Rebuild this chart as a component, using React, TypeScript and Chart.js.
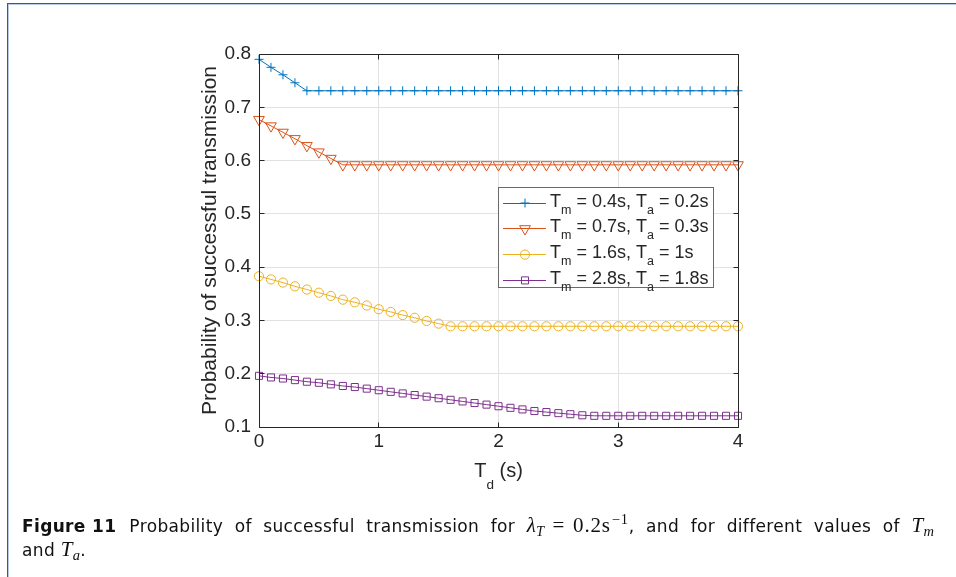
import React, { useEffect, useLayoutEffect, useRef } from 'react';
import { Chart, registerables } from 'chart.js';

Chart.register(...registerables);

// ---------- data ----------
const tdValues = [
  0, 0.1, 0.2, 0.3, 0.4, 0.5, 0.6, 0.7, 0.8, 0.9,
  1.0, 1.1, 1.2, 1.3, 1.4, 1.5, 1.6, 1.7, 1.8, 1.9,
  2.0, 2.1, 2.2, 2.3, 2.4, 2.5, 2.6, 2.7, 2.8, 2.9,
  3.0, 3.1, 3.2, 3.3, 3.4, 3.5, 3.6, 3.7, 3.8, 3.9, 4.0,
];

const seriesA = [
  0.790, 0.775, 0.761, 0.746, 0.731, 0.731, 0.731, 0.731, 0.731, 0.731,
  0.731, 0.731, 0.731, 0.731, 0.731, 0.731, 0.731, 0.731, 0.731, 0.731,
  0.731, 0.731, 0.731, 0.731, 0.731, 0.731, 0.731, 0.731, 0.731, 0.731,
  0.731, 0.731, 0.731, 0.731, 0.731, 0.731, 0.731, 0.731, 0.731, 0.731, 0.731,
];

const seriesB = [
  0.677, 0.665, 0.653, 0.641, 0.628, 0.616, 0.604, 0.592, 0.592, 0.592,
  0.592, 0.592, 0.592, 0.592, 0.592, 0.592, 0.592, 0.592, 0.592, 0.592,
  0.592, 0.592, 0.592, 0.592, 0.592, 0.592, 0.592, 0.592, 0.592, 0.592,
  0.592, 0.592, 0.592, 0.592, 0.592, 0.592, 0.592, 0.592, 0.592, 0.592, 0.592,
];

const seriesC = [
  0.383, 0.377, 0.371, 0.364, 0.358, 0.352, 0.346, 0.339, 0.334, 0.328,
  0.321, 0.316, 0.310, 0.305, 0.299, 0.294, 0.289, 0.289, 0.289, 0.289,
  0.289, 0.289, 0.289, 0.289, 0.289, 0.289, 0.289, 0.289, 0.289, 0.289,
  0.289, 0.289, 0.289, 0.289, 0.289, 0.289, 0.289, 0.289, 0.289, 0.289, 0.289,
];

const seriesD = [
  0.196, 0.193, 0.191, 0.188, 0.185, 0.183, 0.180, 0.177, 0.175, 0.172,
  0.169, 0.166, 0.163, 0.160, 0.157, 0.154, 0.151, 0.148, 0.145, 0.142,
  0.139, 0.136, 0.133, 0.130, 0.128, 0.126, 0.124, 0.122, 0.121, 0.121,
  0.121, 0.121, 0.121, 0.121, 0.121, 0.121, 0.121, 0.121, 0.121, 0.121, 0.121,
];

const seriesLabels = [
  'T_m = 0.4s, T_a = 0.2s',
  'T_m = 0.7s, T_a = 0.3s',
  'T_m = 1.6s, T_a = 1s',
  'T_m = 2.8s, T_a = 1.8s',
];

const xTickValues = [0, 1, 2, 3, 4];
const yTickValues = [0.1, 0.2, 0.3, 0.4, 0.5, 0.6, 0.7, 0.8];
const xAxisTitle = 'T_d (s)';
const yAxisTitle = 'Probability of successful transmission';

// ---------- styles ----------
const COLORS = ['#0072BD', '#D95319', '#EDB120', '#7E2F8E'];
const STYLES: any[] = [
  { pointStyle: 'cross', radius: 4.5, rotation: 0 },
  { pointStyle: 'triangle', radius: 6.2, rotation: 180 },
  { pointStyle: 'circle', radius: 4.6, rotation: 0 },
  { pointStyle: 'rect', radius: 5, rotation: 0 },
];
const FONT = "'Liberation Sans', Arial, sans-serif";
const INK = '#262626';
const CAPTION_RIGHT = 940;

function richText(
  ctx: CanvasRenderingContext2D,
  text: string,
  x: number,
  y: number,
  size: number,
  subSize: number,
  subShift: number,
  draw: boolean
): number {
  let cx = x;
  let i = 0;
  while (i < text.length) {
    if (text[i] === '_' && i + 1 < text.length) {
      ctx.font = `${subSize}px ${FONT}`;
      const ch = text[i + 1];
      if (draw) ctx.fillText(ch, cx, y + subShift);
      cx += ctx.measureText(ch).width;
      i += 2;
    } else {
      let j = i;
      while (j < text.length && text[j] !== '_') j++;
      const seg = text.slice(i, j);
      ctx.font = `${size}px ${FONT}`;
      if (draw) ctx.fillText(seg, cx, y);
      cx += ctx.measureText(seg).width;
      i = j;
    }
  }
  return cx - x;
}

function drawMarker(ctx: CanvasRenderingContext2D, style: string, x: number, y: number, r: number, rotation: number) {
  ctx.beginPath();
  if (style === 'cross') {
    ctx.moveTo(x - r, y);
    ctx.lineTo(x + r, y);
    ctx.moveTo(x, y - r);
    ctx.lineTo(x, y + r);
  } else if (style === 'triangle') {
    const rad = (rotation * Math.PI) / 180;
    for (let k = 0; k < 3; k++) {
      const a = rad + (k * 2 * Math.PI) / 3;
      const px = x + Math.sin(a) * r;
      const py = y - Math.cos(a) * r;
      if (k === 0) ctx.moveTo(px, py);
      else ctx.lineTo(px, py);
    }
    ctx.closePath();
  } else if (style === 'circle') {
    ctx.arc(x, y, r, 0, Math.PI * 2);
  } else if (style === 'rect') {
    const s = Math.SQRT1_2 * r;
    ctx.rect(x - s, y - s, 2 * s, 2 * s);
  }
  ctx.stroke();
}

const frameAndLegend = {
  id: 'frameAndLegend',
  afterDatasetsDraw(chart: any) {
    const ctx: CanvasRenderingContext2D = chart.ctx;
    const { left, right, top, bottom } = chart.chartArea;
    const xs = chart.scales.x;
    const ys = chart.scales.y;
    const al = (v: number) => Math.floor(v) + 0.5;
    ctx.save();
    // axes box
    ctx.strokeStyle = INK;
    ctx.lineWidth = 1;
    ctx.beginPath();
    ctx.rect(al(left), al(top), al(right) - al(left), al(bottom) - al(top));
    ctx.stroke();
    // inward ticks
    const tl = 5;
    ctx.beginPath();
    xTickValues.forEach((v) => {
      const px = al(xs.getPixelForValue(v));
      ctx.moveTo(px, al(bottom));
      ctx.lineTo(px, al(bottom) - tl);
      ctx.moveTo(px, al(top));
      ctx.lineTo(px, al(top) + tl);
    });
    yTickValues.forEach((v) => {
      const py = al(ys.getPixelForValue(v));
      ctx.moveTo(al(left), py);
      ctx.lineTo(al(left) + tl, py);
      ctx.moveTo(al(right), py);
      ctx.lineTo(al(right) - tl, py);
    });
    ctx.stroke();

    // x axis title with subscript
    ctx.fillStyle = INK;
    ctx.textAlign = 'left';
    ctx.textBaseline = 'alphabetic';
    const tw = richText(ctx, xAxisTitle, 0, 0, 20, 13.5, 12, false);
    const cx = (left + right) / 2;
    richText(ctx, xAxisTitle, cx - tw / 2, bottom + 50, 20, 13.5, 12, true);

    // legend
    const lx = left + 239;
    const ly = top + 133;
    const lw = 215;
    const lh = 100;
    ctx.fillStyle = '#ffffff';
    ctx.fillRect(lx, ly, lw, lh);
    ctx.strokeStyle = '#6a6a6a';
    ctx.lineWidth = 1;
    ctx.strokeRect(al(lx), al(ly), lw, lh);
    seriesLabels.forEach((lab, i) => {
      const rowY = ly + 16 + i * 25.8;
      ctx.strokeStyle = COLORS[i];
      ctx.lineWidth = 1;
      ctx.beginPath();
      ctx.moveTo(lx + 5, al(rowY));
      ctx.lineTo(lx + 48, al(rowY));
      ctx.stroke();
      drawMarker(ctx, STYLES[i].pointStyle, lx + 27, rowY, STYLES[i].radius, STYLES[i].rotation);
      ctx.fillStyle = INK;
      richText(ctx, lab, lx + 52, rowY + 3.5, 18, 12.5, 7, true);
    });
    ctx.restore();
  },
};

function ChartCanvas() {
  const ref = useRef<HTMLCanvasElement | null>(null);
  useEffect(() => {
    if (!ref.current) return;
    const allSeries = [seriesA, seriesB, seriesC, seriesD];
    const chart = new Chart(ref.current, {
      type: 'line',
      data: {
        datasets: allSeries.map((s, i) => ({
          label: seriesLabels[i],
          data: tdValues.map((x, k) => ({ x, y: s[k] })),
          borderColor: COLORS[i],
          borderWidth: 1,
          backgroundColor: 'transparent',
          pointStyle: STYLES[i].pointStyle,
          pointRadius: STYLES[i].radius,
          pointRotation: STYLES[i].rotation,
          pointBorderColor: COLORS[i],
          pointBackgroundColor: 'transparent',
          pointBorderWidth: 1,
          fill: false,
          tension: 0,
          clip: false as any,
        })),
      },
      options: {
        animation: false,
        responsive: false,
        devicePixelRatio: 1,
        events: [],
        layout: { padding: { left: 198, top: 54, right: 218, bottom: 110 } },
        plugins: {
          legend: { display: false },
          tooltip: { enabled: false },
        },
        scales: {
          x: {
            type: 'linear',
            min: 0,
            max: 4,
            afterBuildTicks: (s: any) => {
              s.ticks = xTickValues.map((v) => ({ value: v }));
            },
            afterFit: (s: any) => {
              s.height = 40;
            },
            ticks: {
              padding: 3,
              color: INK,
              maxRotation: 0,
              font: { family: FONT, size: 19 },
              callback: (v: any) => String(v),
            },
            grid: { color: '#e2e2e2', drawTicks: false, lineWidth: 1 },
            border: { display: false },
          },
          y: {
            type: 'linear',
            min: 0.1,
            max: 0.8,
            afterBuildTicks: (s: any) => {
              s.ticks = yTickValues.map((v) => ({ value: v }));
            },
            afterFit: (s: any) => {
              s.width = 61;
            },
            ticks: {
              padding: 8,
              color: INK,
              font: { family: FONT, size: 19 },
              callback: (v: any) => Number(v).toFixed(1),
            },
            title: {
              display: true,
              text: yAxisTitle,
              color: INK,
              padding: 0,
              font: { family: FONT, size: 21 },
            },
            grid: { color: '#e2e2e2', drawTicks: false, lineWidth: 1 },
            border: { display: false },
          },
        },
      },
      plugins: [frameAndLegend],
    });
    return () => chart.destroy();
  }, []);
  return (
    <canvas
      ref={ref}
      width={956}
      height={577}
      style={{ position: 'absolute', left: 0, top: 0, width: 956, height: 577 }}
    />
  );
}

const serif: React.CSSProperties = {
  fontFamily: "'Liberation Serif', 'DejaVu Serif', serif",
  fontStyle: 'italic',
  fontSize: 21,
  letterSpacing: 0.3,
};
const serifUp: React.CSSProperties = {
  fontFamily: "'Liberation Serif', 'DejaVu Serif', serif",
  fontSize: 21,
  letterSpacing: 0.8,
};
const sub: React.CSSProperties = {
  fontSize: 14.5,
  position: 'relative',
  top: 4,
  lineHeight: 0,
};
const sup: React.CSSProperties = {
  fontSize: 14.5,
  position: 'relative',
  top: -8,
  lineHeight: 0,
  marginLeft: 1,
};

function Caption() {
  const lineRef = useRef<HTMLSpanElement | null>(null);
  useLayoutEffect(() => {
    const fit = () => {
      const line = lineRef.current;
      if (!line) return;
      line.style.wordSpacing = '0px';
      const right = line.getBoundingClientRect().right;
      const n = (line.textContent || '').split(' ').length - 1;
      if (n > 0) line.style.wordSpacing = `${Math.max(0, (CAPTION_RIGHT - right) / n)}px`;
    };
    fit();
    const f: any = (document as any).fonts;
    if (f && f.ready) f.ready.then(fit);
  }, []);
  return (
    <div
      style={{
        position: 'absolute',
        left: 22,
        top: 514,
        fontFamily: "'DejaVu Sans', sans-serif",
        fontSize: 17,
        letterSpacing: 0.35,
        lineHeight: '23px',
        color: '#111',
        whiteSpace: 'nowrap',
      }}
    >
      <span ref={lineRef}>
        <span style={{ fontWeight: 700, wordSpacing: 0, display: 'inline-block' }}>Figure 11</span>
        <span style={{ display: 'inline-block', width: 13 }} />
        {'Probability of successful transmission for '}
        <span style={serif}>
          λ<span style={sub}>T</span>
        </span>
        <span style={{ ...serifUp, marginLeft: 8 }}>
          =<span style={{ marginLeft: 8 }}>0.2s</span>
          <span style={sup}>−1</span>
        </span>
        {', and for different values of '}
        <span style={serif}>
          T<span style={sub}>m</span>
        </span>
      </span>
      <br />
      and{' '}
      <span style={serif}>
        T<span style={sub}>a</span>
      </span>
      .
    </div>
  );
}

export default function App() {
  return (
    <div
      style={{
        position: 'absolute',
        left: 0,
        top: 0,
        width: 956,
        height: 577,
        overflow: 'hidden',
        background: '#ffffff',
      }}
    >
      <div
        style={{
          position: 'absolute',
          left: 7,
          top: 3,
          width: 1200,
          height: 1200,
          borderLeft: '1px solid #3a5a7e',
          borderTop: '1px solid #3a5a7e',
          boxShadow: 'inset 1px 1px 0 #b8cde4',
        }}
      />
      <ChartCanvas />
      <Caption />
    </div>
  );
}
